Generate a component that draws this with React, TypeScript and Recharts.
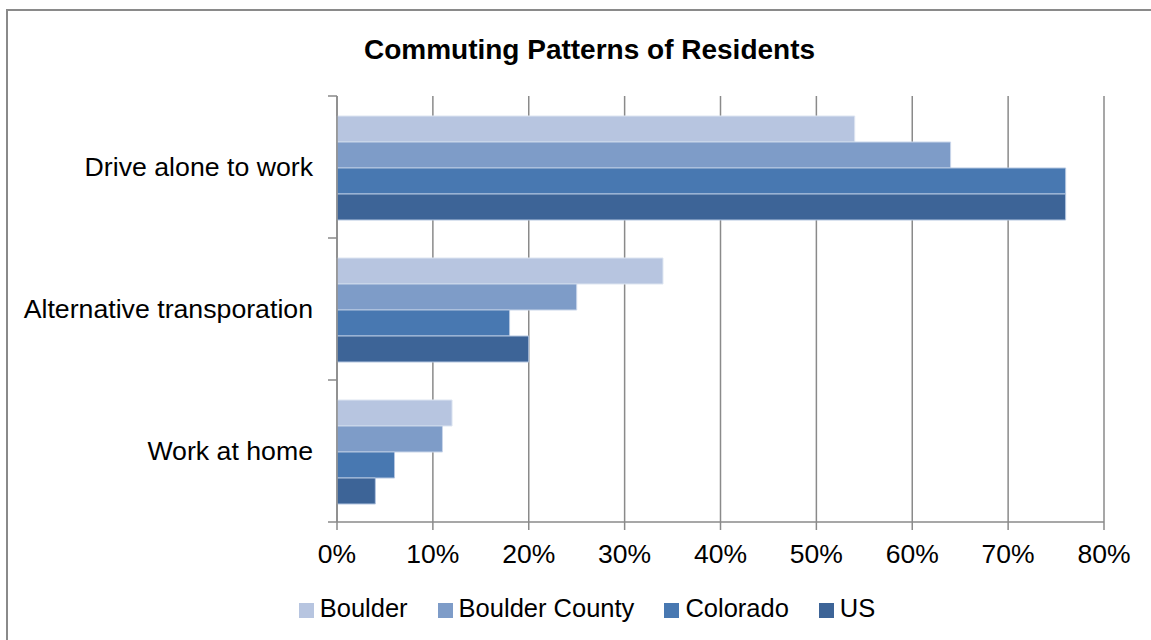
import React from "react";
import { BarChart, Bar, XAxis, YAxis, CartesianGrid, Legend } from "recharts";

const categories = ["Drive alone to work", "Alternative transporation", "Work at home"];
const boulder = [54, 34, 12];
const boulderCounty = [64, 25, 11];
const colorado = [76, 18, 6];
const us = [76, 20, 4];
const xTicks = [0, 10, 20, 30, 40, 50, 60, 70, 80];

const seriesNames = ["Boulder", "Boulder County", "Colorado", "US"];
const seriesColors = ["#b7c5e0", "#7e9cc8", "#4878b1", "#3d6497"];
const seriesStrokes = ["#dde5f1", "#c9d6ea", "#b4c6e0", "#b4c6e0"];

const data = categories.map((name, i) => ({
  name,
  Boulder: boulder[i],
  "Boulder County": boulderCounty[i],
  Colorado: colorado[i],
  US: us[i],
}));

const W = 1151;
const H = 640;
const PLOT_TOP = 96;
const PLOT_H = 426;
const BAND = PLOT_H / categories.length;
const GRID = "#8a8a8a";
const FONT = "'Liberation Sans', Arial, sans-serif";

const CategoryTick = (props: any) => {
  const { x, y, payload, index } = props;
  return (
    <g>
      <line x1={x - 9} x2={x} y1={y - BAND / 2} y2={y - BAND / 2} stroke={GRID} strokeWidth={1.5} />
      {index === categories.length - 1 && (
        <line x1={x - 9} x2={x} y1={y + BAND / 2} y2={y + BAND / 2} stroke={GRID} strokeWidth={1.5} />
      )}
      <text x={x - 24} y={y} dy={9} textAnchor="end" fontSize={26.7} fill="#000" fontFamily={FONT}>
        {payload.value}
      </text>
    </g>
  );
};

// legend drawn in the Excel style: bigger squares, wider spacing
const LegendContent = () => (
  <div
    style={{
      height: 40,
      display: "flex",
      justifyContent: "center",
      alignItems: "center",
      fontSize: 25.5,
      fontFamily: FONT,
      color: "#000",
      paddingLeft: 23,
    }}
  >
    {seriesNames.map((n, i) => (
      <div key={n} style={{ display: "flex", alignItems: "center", marginRight: i < seriesNames.length - 1 ? 30 : 0 }}>
        <div style={{ width: 15, height: 15, background: seriesColors[i], marginRight: 6, marginTop: 4 }} />
        <span>{n}</span>
      </div>
    ))}
  </div>
);

export default function App() {
  return (
    <div style={{ position: "absolute", left: 0, top: 0, width: W, height: H, background: "#fff", fontFamily: FONT }}>
      <div
        style={{
          position: "absolute",
          left: 6,
          top: 9,
          width: W - 6,
          height: H - 9,
          boxSizing: "border-box",
          borderLeft: `2px solid ${GRID}`,
          borderTop: `2px solid ${GRID}`,
        }}
      />
      <div
        style={{
          position: "absolute",
          top: 34,
          left: 14,
          width: W,
          textAlign: "center",
          fontSize: 28,
          fontWeight: "bold",
          color: "#000",
          lineHeight: "32px",
        }}
      >
        Commuting Patterns of Residents
      </div>
      <BarChart
        width={W}
        height={H}
        data={data}
        layout="vertical"
        margin={{ top: PLOT_TOP, right: 47, left: 0, bottom: 12 }}
        barCategoryGap={20}
        barGap={0}
      >
        <CartesianGrid horizontal={false} stroke={GRID} strokeWidth={1.5} />
        <XAxis
          type="number"
          domain={[0, 80]}
          ticks={xTicks}
          tickFormatter={(v) => `${v}%`}
          axisLine={{ stroke: GRID, strokeWidth: 1.5 }}
          tickLine={{ stroke: GRID, strokeWidth: 1.5 }}
          tickSize={8}
          tickMargin={14}
          tick={{ fontSize: 26.5, fill: "#000", fontFamily: FONT }}
          height={66}
          interval={0}
        />
        <YAxis
          type="category"
          dataKey="name"
          width={337}
          axisLine={{ stroke: GRID, strokeWidth: 1.5 }}
          tickLine={false}
          tickSize={0}
          tickMargin={0}
          tick={<CategoryTick />}
          interval={0}
        />
        <Legend verticalAlign="bottom" content={<LegendContent />} wrapperStyle={{ left: 0, width: W }} />
        {seriesNames.map((n, i) => (
          <Bar
            key={n}
            dataKey={n}
            fill={seriesColors[i]}
            stroke={seriesStrokes[i]}
            strokeWidth={1}
            isAnimationActive={false}
          />
        ))}
      </BarChart>
    </div>
  );
}
